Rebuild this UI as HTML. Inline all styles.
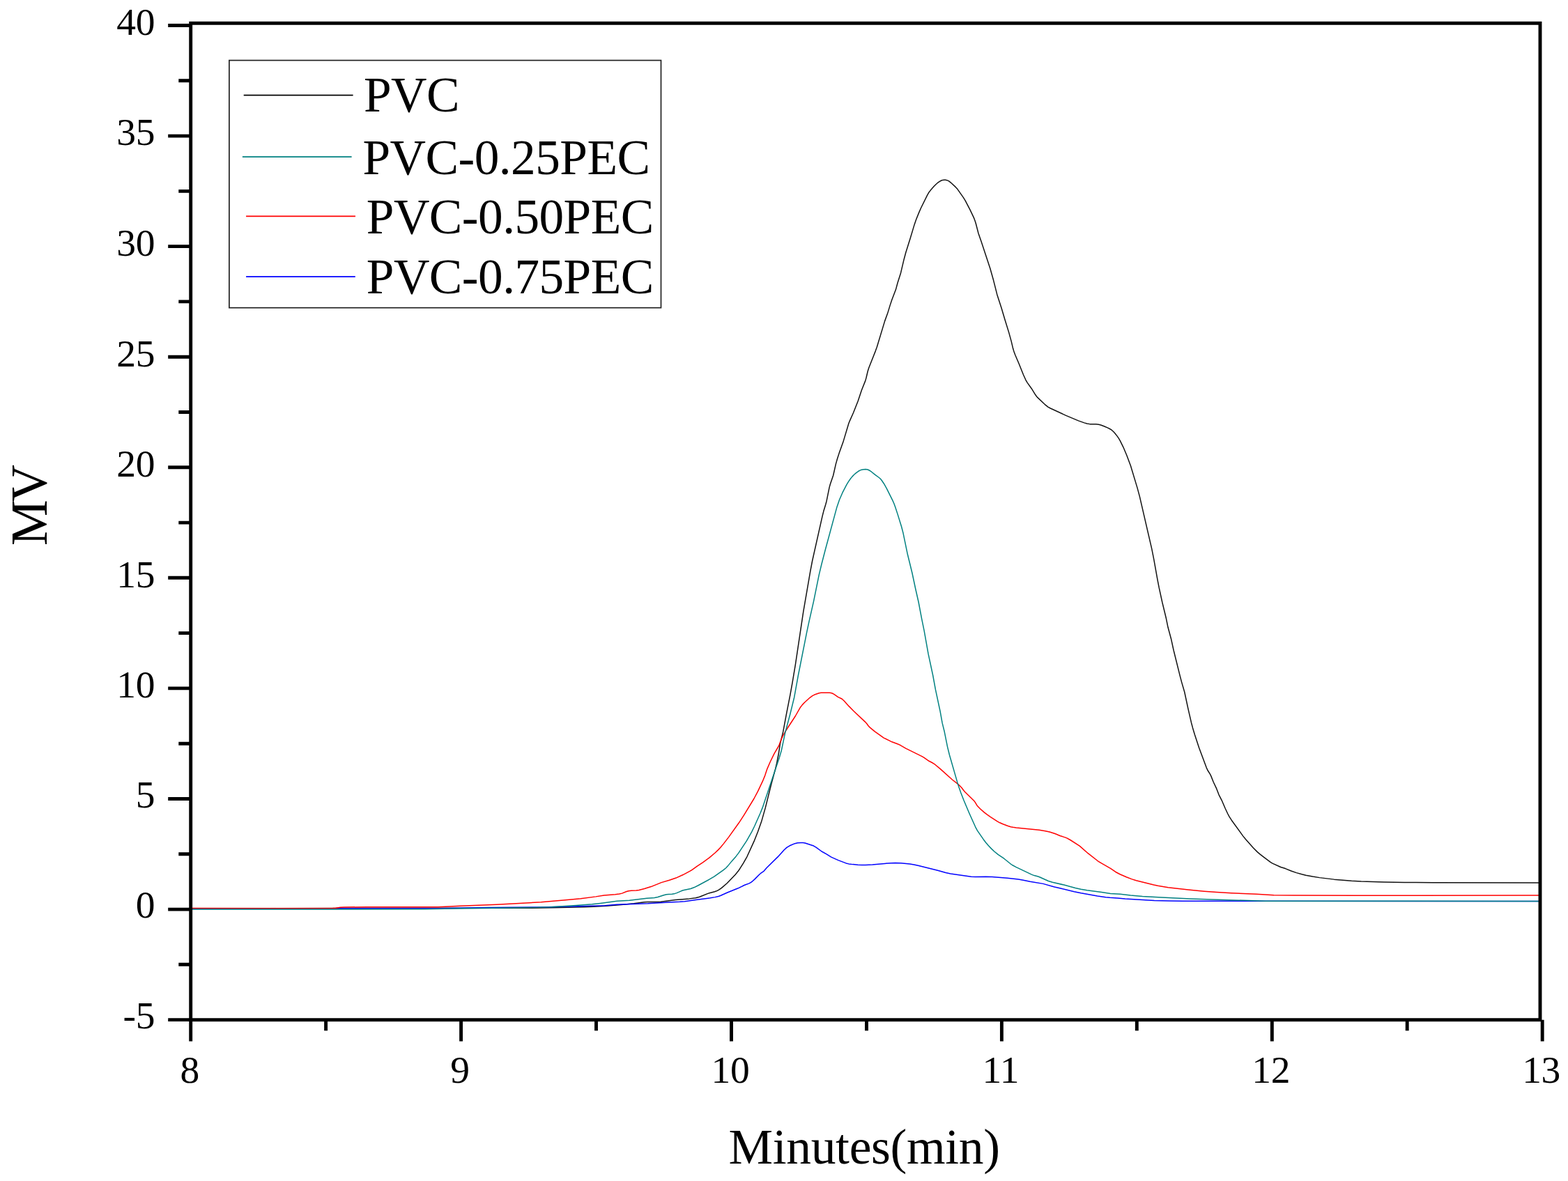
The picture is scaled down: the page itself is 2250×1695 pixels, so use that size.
<!DOCTYPE html><html><head><meta charset="utf-8"><style>html,body{margin:0;padding:0;background:#fff;}svg{display:block}</style></head><body>
<svg xmlns="http://www.w3.org/2000/svg" width="2250" height="1695" viewBox="0 0 2250 1695">
<rect width="2250" height="1695" fill="#fff"/>
<defs><clipPath id="pc"><rect x="273.7" y="33.3" width="1936.3" height="1430.4"/></clipPath></defs>
<g clip-path="url(#pc)" fill="none" stroke-linejoin="round" stroke-linecap="round">
<path d="M273.70,1304.00 L479.70,1303.50 L760.70,1303.20 L792.70,1302.77 L838.69,1301.80 L851.68,1301.36 L869.64,1300.22 L891.56,1298.39 L909.49,1296.73 L924.36,1294.85 L929.36,1294.62 L942.36,1294.50 L948.35,1294.16 L969.18,1291.59 L989.11,1289.88 L998.03,1288.70 L1003.85,1287.28 L1015.87,1282.37 L1025.51,1279.75 L1029.25,1278.38 L1031.89,1276.96 L1035.16,1274.68 L1043.44,1267.44 L1055.20,1255.17 L1059.05,1250.58 L1061.88,1246.46 L1066.65,1238.83 L1072.06,1229.26 L1082.04,1207.43 L1087.57,1193.49 L1092.59,1179.36 L1098.34,1159.16 L1106.78,1125.20 L1112.55,1103.96 L1114.65,1095.22 L1117.50,1080.49 L1119.46,1067.64 L1123.74,1050.17 L1128.30,1025.58 L1133.90,997.13 L1136.93,980.40 L1141.37,953.77 L1152.82,877.63 L1162.88,819.49 L1165.68,804.76 L1179.91,741.33 L1181.86,733.58 L1184.79,724.02 L1186.08,719.19 L1190.05,699.59 L1191.41,694.78 L1195.62,682.49 L1199.41,665.92 L1201.57,658.22 L1204.05,650.61 L1209.80,634.62 L1217.84,607.80 L1219.31,604.08 L1224.60,592.21 L1231.22,575.48 L1236.29,560.30 L1241.81,546.36 L1242.91,542.52 L1245.22,532.79 L1246.72,528.02 L1256.27,503.85 L1258.29,498.20 L1269.59,460.87 L1273.71,449.61 L1277.20,438.13 L1279.74,430.54 L1285.45,415.60 L1288.03,405.94 L1292.57,391.66 L1297.16,372.19 L1299.77,362.54 L1306.36,341.55 L1312.09,322.39 L1314.75,314.84 L1318.84,304.64 L1321.65,298.23 L1330.51,280.30 L1333.03,275.99 L1335.48,272.84 L1340.10,267.58 L1342.87,264.70 L1345.12,262.72 L1348.39,260.44 L1351.00,258.99 L1352.86,258.38 L1354.81,258.18 L1356.79,258.28 L1358.73,258.66 L1360.57,259.37 L1362.25,260.40 L1364.57,262.30 L1371.19,268.39 L1373.86,271.35 L1382.47,283.62 L1385.10,287.86 L1391.99,301.19 L1397.59,312.92 L1399.02,316.65 L1400.22,320.46 L1404.00,334.97 L1407.93,346.31 L1420.81,385.23 L1425.67,402.56 L1430.82,422.92 L1437.01,441.93 L1441.82,458.24 L1447.73,477.35 L1451.18,489.88 L1453.72,500.58 L1455.19,505.35 L1457.00,510.01 L1462.14,521.96 L1468.46,537.74 L1471.74,545.03 L1474.24,549.35 L1480.08,557.47 L1485.89,566.80 L1487.67,569.20 L1489.74,571.36 L1499.17,580.31 L1503.84,584.05 L1507.33,585.97 L1529.08,596.12 L1547.51,603.89 L1555.99,606.87 L1559.85,607.92 L1563.78,608.63 L1566.77,608.79 L1572.76,608.68 L1576.70,609.19 L1579.58,610.00 L1584.26,611.77 L1589.77,614.14 L1593.31,615.99 L1595.77,617.68 L1597.98,619.69 L1599.98,621.93 L1603.05,625.87 L1605.30,629.17 L1607.32,632.62 L1611.76,641.58 L1616.82,653.55 L1622.43,668.53 L1631.97,700.12 L1635.35,712.67 L1652.72,787.69 L1655.65,802.40 L1661.12,832.91 L1663.23,843.71 L1667.73,864.22 L1673.39,887.54 L1675.99,900.28 L1680.45,916.68 L1684.07,933.28 L1693.25,970.16 L1695.55,978.86 L1699.74,993.26 L1704.98,1017.70 L1709.49,1037.19 L1711.55,1044.92 L1714.41,1054.50 L1720.67,1073.49 L1731.13,1101.60 L1732.79,1105.24 L1736.46,1111.19 L1737.82,1113.85 L1741.13,1122.22 L1745.79,1132.17 L1748.99,1140.58 L1753.11,1148.57 L1758.26,1160.50 L1761.65,1167.75 L1763.99,1172.16 L1767.26,1177.19 L1783.65,1199.89 L1787.42,1204.55 L1798.74,1217.23 L1804.39,1222.89 L1808.21,1226.11 L1813.74,1230.40 L1823.39,1237.53 L1825.96,1239.06 L1837.77,1244.45 L1844.43,1246.58 L1852.73,1250.04 L1860.30,1252.60 L1868.00,1254.77 L1873.84,1256.15 L1883.66,1258.03 L1893.53,1259.62 L1914.38,1262.13 L1939.29,1264.30 L1953.27,1265.02 L1986.25,1265.95 L2015.25,1266.44 L2055.25,1266.69 L2215.00,1266.90" stroke="#111111" stroke-width="1.5"/>
<path d="M273.70,1304.20 L508.70,1303.80 L629.70,1303.78 L700.69,1302.59 L775.69,1301.89 L809.68,1301.26 L867.66,1299.69 L884.60,1298.36 L929.57,1296.79 L959.51,1294.89 L975.50,1294.28 L982.48,1293.75 L1000.29,1291.18 L1019.14,1288.82 L1026.04,1287.63 L1030.90,1286.47 L1033.74,1285.52 L1043.76,1281.00 L1058.61,1275.07 L1068.51,1270.29 L1075.03,1267.83 L1077.62,1266.33 L1080.02,1264.54 L1082.98,1261.86 L1090.03,1254.77 L1091.55,1253.49 L1095.62,1250.71 L1100.17,1245.53 L1116.54,1229.38 L1125.24,1219.73 L1128.92,1216.37 L1133.18,1213.79 L1140.53,1210.65 L1144.40,1209.73 L1149.38,1209.42 L1152.38,1209.52 L1155.32,1209.94 L1167.59,1214.06 L1171.04,1216.05 L1179.08,1221.98 L1186.04,1225.92 L1192.80,1230.17 L1202.85,1234.63 L1214.05,1238.90 L1217.91,1239.89 L1223.86,1240.62 L1230.84,1241.21 L1236.83,1241.46 L1241.83,1241.45 L1251.82,1240.91 L1278.72,1238.63 L1284.71,1238.42 L1292.70,1238.77 L1305.63,1240.08 L1311.56,1240.99 L1317.44,1242.18 L1345.57,1249.23 L1357.09,1252.58 L1363.94,1253.96 L1393.64,1258.17 L1399.63,1258.38 L1414.63,1258.16 L1423.62,1258.51 L1445.56,1260.18 L1461.45,1262.05 L1468.35,1263.18 L1478.12,1265.30 L1496.87,1268.37 L1513.20,1273.04 L1521.99,1275.01 L1541.39,1279.85 L1551.19,1281.82 L1574.83,1285.96 L1586.70,1287.72 L1592.67,1288.34 L1603.65,1288.89 L1614.58,1290.11 L1656.51,1292.48 L1678.50,1293.05 L1696.50,1293.29 L2215.00,1293.60" stroke="#0000ff" stroke-width="1.5"/>
<path d="M273.70,1303.60 L410.70,1303.74 L477.70,1303.51 L481.69,1303.30 L488.58,1302.17 L493.57,1301.96 L526.57,1301.78 L599.57,1301.86 L628.57,1301.64 L660.53,1300.22 L712.50,1298.34 L776.40,1294.82 L808.29,1292.12 L833.17,1289.66 L854.99,1286.88 L866.83,1284.95 L882.78,1283.78 L888.73,1283.06 L892.61,1282.11 L899.12,1279.57 L901.98,1278.70 L905.93,1278.18 L912.92,1278.01 L916.87,1277.45 L924.64,1275.55 L934.19,1272.58 L949.02,1266.62 L960.54,1263.27 L970.02,1260.08 L980.04,1255.55 L989.77,1250.44 L993.17,1248.34 L1000.44,1243.03 L1008.81,1237.57 L1017.70,1231.09 L1026.11,1224.01 L1030.45,1219.86 L1033.90,1216.24 L1038.37,1210.87 L1045.69,1201.35 L1060.25,1181.04 L1067.39,1170.17 L1081.93,1146.25 L1087.55,1135.65 L1094.38,1121.18 L1097.78,1112.85 L1100.93,1103.36 L1105.31,1093.27 L1110.99,1081.58 L1117.07,1071.25 L1118.28,1068.51 L1121.10,1061.03 L1123.60,1055.58 L1127.10,1049.52 L1141.31,1027.75 L1148.22,1015.58 L1151.25,1011.62 L1154.70,1008.01 L1162.12,1001.31 L1166.13,998.35 L1168.82,997.06 L1175.33,994.68 L1178.27,994.33 L1183.27,994.18 L1190.26,994.32 L1192.24,994.52 L1194.15,994.97 L1196.77,996.33 L1202.47,1000.37 L1206.95,1002.47 L1208.63,1003.49 L1211.54,1006.19 L1218.20,1013.65 L1225.20,1020.79 L1241.23,1035.85 L1243.90,1038.81 L1246.24,1041.98 L1248.31,1044.11 L1255.27,1049.81 L1268.27,1059.11 L1279.93,1064.81 L1289.29,1068.31 L1292.02,1069.53 L1299.78,1074.07 L1323.04,1085.67 L1325.62,1087.20 L1333.05,1092.27 L1338.36,1095.01 L1341.68,1097.21 L1349.34,1103.63 L1366.44,1119.02 L1374.31,1125.17 L1377.29,1127.84 L1380.06,1130.72 L1383.06,1134.69 L1385.02,1136.94 L1397.83,1149.57 L1399.06,1151.13 L1402.09,1156.22 L1406.98,1161.20 L1412.24,1165.82 L1416.16,1168.91 L1421.08,1172.36 L1431.13,1178.90 L1434.65,1180.79 L1439.23,1182.80 L1445.76,1185.31 L1450.54,1186.74 L1453.48,1187.32 L1458.44,1187.96 L1491.27,1191.28 L1500.16,1192.70 L1506.01,1194.02 L1510.80,1195.43 L1514.56,1196.81 L1520.99,1199.56 L1527.67,1201.60 L1530.48,1202.66 L1535.74,1205.50 L1549.18,1214.17 L1561.21,1224.70 L1575.39,1235.78 L1581.33,1239.47 L1593.51,1246.39 L1600.90,1251.49 L1607.11,1254.72 L1616.28,1258.70 L1623.73,1261.60 L1630.39,1263.74 L1655.62,1270.05 L1661.49,1271.25 L1676.29,1273.67 L1705.10,1277.00 L1728.00,1279.19 L1745.94,1280.54 L1766.91,1281.72 L1802.88,1283.32 L1827.83,1284.85 L1855.83,1285.09 L1944.83,1285.26 L2215.00,1285.10" stroke="#ff0000" stroke-width="1.5"/>
<path d="M273.70,1305.00 L501.70,1304.99 L609.70,1304.73 L667.69,1303.72 L771.68,1302.33 L790.67,1301.65 L826.60,1299.50 L849.53,1297.73 L861.46,1296.42 L885.26,1293.36 L903.23,1292.32 L928.05,1289.36 L939.01,1288.44 L943.91,1287.52 L952.47,1284.75 L956.34,1283.77 L959.31,1283.43 L964.30,1283.26 L967.26,1282.84 L971.05,1281.62 L977.46,1278.82 L980.28,1277.80 L991.00,1275.42 L995.73,1273.82 L1002.01,1270.75 L1017.84,1262.18 L1024.72,1258.11 L1037.82,1248.92 L1041.67,1245.75 L1044.43,1242.85 L1050.12,1235.89 L1056.07,1229.14 L1059.74,1224.39 L1071.34,1206.89 L1078.71,1193.83 L1082.69,1185.76 L1090.81,1167.48 L1094.18,1159.14 L1118.11,1088.06 L1121.22,1077.52 L1126.56,1052.07 L1133.79,1025.02 L1139.73,1000.74 L1145.41,969.25 L1157.69,907.46 L1160.78,892.78 L1167.62,862.55 L1175.18,825.31 L1178.92,809.75 L1184.43,788.45 L1200.95,727.66 L1204.52,717.26 L1208.91,707.18 L1214.87,695.62 L1217.44,691.34 L1220.29,687.23 L1222.81,684.13 L1225.58,681.26 L1228.60,678.63 L1231.83,676.28 L1234.46,674.90 L1236.34,674.28 L1239.28,673.73 L1242.26,673.55 L1245.17,674.01 L1247.84,675.27 L1250.30,676.98 L1255.73,681.39 L1261.40,685.49 L1262.89,686.80 L1264.89,689.03 L1268.29,693.96 L1272.20,700.94 L1280.69,717.93 L1282.77,722.47 L1284.53,727.15 L1287.95,737.61 L1293.56,755.76 L1295.84,764.46 L1302.37,795.79 L1308.82,822.01 L1313.83,845.47 L1318.04,864.00 L1322.72,888.56 L1326.10,905.22 L1332.08,938.69 L1338.61,968.99 L1342.40,989.65 L1349.10,1020.94 L1352.11,1037.67 L1355.24,1050.28 L1359.56,1071.85 L1362.43,1083.50 L1373.78,1122.89 L1375.88,1129.57 L1378.88,1138.06 L1382.85,1148.31 L1390.65,1166.73 L1399.65,1186.80 L1402.49,1192.08 L1410.98,1204.44 L1414.60,1209.23 L1418.49,1213.78 L1422.64,1218.12 L1427.01,1222.23 L1432.42,1226.66 L1440.72,1232.22 L1450.04,1239.77 L1452.49,1241.49 L1457.77,1244.33 L1480.31,1255.15 L1484.03,1256.60 L1488.86,1257.81 L1491.70,1258.76 L1504.46,1264.49 L1510.19,1266.26 L1526.76,1270.05 L1543.16,1274.53 L1550.99,1276.17 L1559.86,1277.66 L1580.68,1280.39 L1593.52,1282.40 L1607.48,1283.36 L1622.38,1285.08 L1639.33,1286.44 L1662.29,1287.76 L1708.24,1289.95 L1816.19,1293.28 L2215.00,1293.40" stroke="#008080" stroke-width="1.5"/>
</g>
<rect x="273.7" y="33.3" width="1936.3" height="1430.4" fill="none" stroke="#000" stroke-width="4.9"/>
<path d="M241.2,36.5H273.7 M256.3,115.8H273.7 M241.2,195.1H273.7 M256.3,274.4H273.7 M241.2,353.6H273.7 M256.3,432.9H273.7 M241.2,512.2H273.7 M256.3,591.5H273.7 M241.2,670.8H273.7 M256.3,750.1H273.7 M241.2,829.3H273.7 M256.3,908.6H273.7 M241.2,987.9H273.7 M256.3,1067.2H273.7 M241.2,1146.5H273.7 M256.3,1225.8H273.7 M241.2,1305.1H273.7 M256.3,1384.3H273.7 M241.2,1463.6H273.7 M273.7,1463.7V1494.4 M467.6,1463.7V1479.2 M661.6,1463.7V1494.4 M855.5,1463.7V1479.2 M1049.5,1463.7V1494.4 M1243.5,1463.7V1479.2 M1437.4,1463.7V1494.4 M1631.3,1463.7V1479.2 M1825.3,1463.7V1494.4 M2019.2,1463.7V1479.2 M2213.2,1463.7V1494.4" stroke="#000" stroke-width="4.9" fill="none"/>
<text x="222.0" y="49.7" font-family="Liberation Serif, Times New Roman, serif" font-size="55.5" letter-spacing="-0.4" text-anchor="end">40</text>
<text x="222.0" y="208.2" font-family="Liberation Serif, Times New Roman, serif" font-size="55.5" letter-spacing="-0.4" text-anchor="end">35</text>
<text x="222.0" y="366.8" font-family="Liberation Serif, Times New Roman, serif" font-size="55.5" letter-spacing="-0.4" text-anchor="end">30</text>
<text x="222.0" y="525.6" font-family="Liberation Serif, Times New Roman, serif" font-size="55.5" letter-spacing="-0.4" text-anchor="end">25</text>
<text x="222.0" y="683.9" font-family="Liberation Serif, Times New Roman, serif" font-size="55.5" letter-spacing="-0.4" text-anchor="end">20</text>
<text x="222.0" y="842.7" font-family="Liberation Serif, Times New Roman, serif" font-size="55.5" letter-spacing="-0.4" text-anchor="end">15</text>
<text x="222.0" y="1001.1" font-family="Liberation Serif, Times New Roman, serif" font-size="55.5" letter-spacing="-0.4" text-anchor="end">10</text>
<text x="222.0" y="1158.8" font-family="Liberation Serif, Times New Roman, serif" font-size="55.5" letter-spacing="-0.4" text-anchor="end">5</text>
<text x="222.0" y="1316.6" font-family="Liberation Serif, Times New Roman, serif" font-size="55.5" letter-spacing="-0.4" text-anchor="end">0</text>
<text x="222.0" y="1475.6" font-family="Liberation Serif, Times New Roman, serif" font-size="55.5" letter-spacing="-0.4" text-anchor="end">-5</text>
<text x="272.1" y="1554.4" font-family="Liberation Serif, Times New Roman, serif" font-size="55.5" letter-spacing="-0.4" text-anchor="middle">8</text>
<text x="660.0" y="1554.4" font-family="Liberation Serif, Times New Roman, serif" font-size="55.5" letter-spacing="-0.4" text-anchor="middle">9</text>
<text x="1047.9" y="1554.4" font-family="Liberation Serif, Times New Roman, serif" font-size="55.5" letter-spacing="-0.4" text-anchor="middle">10</text>
<text x="1435.8" y="1554.4" font-family="Liberation Serif, Times New Roman, serif" font-size="55.5" letter-spacing="-0.4" text-anchor="middle">11</text>
<text x="1823.7" y="1554.4" font-family="Liberation Serif, Times New Roman, serif" font-size="55.5" letter-spacing="-0.4" text-anchor="middle">12</text>
<text x="2211.6" y="1554.4" font-family="Liberation Serif, Times New Roman, serif" font-size="55.5" letter-spacing="-0.4" text-anchor="middle">13</text>
<text x="1240.1" y="1669.9" font-family="Liberation Serif, Times New Roman, serif" font-size="71.5" letter-spacing="-0.35" text-anchor="middle">Minutes(min)</text>
<text transform="translate(66.5,726.5) rotate(-90)" font-family="Liberation Serif, Times New Roman, serif" font-size="74" letter-spacing="-3.2" text-anchor="middle">MV</text>
<rect x="328.9" y="86.6" width="619.6" height="355.1" fill="#fff" stroke="#222" stroke-width="1.7"/>
<path d="M349.7,136.7H506.6" stroke="#000000" stroke-width="1.7"/>
<text x="522.0" y="159.6" font-family="Liberation Serif, Times New Roman, serif" font-size="71.3" letter-spacing="-0.55">PVC</text>
<path d="M347.9,225.2H504.6" stroke="#008080" stroke-width="1.7"/>
<text x="520.5" y="249.8" font-family="Liberation Serif, Times New Roman, serif" font-size="71.3" letter-spacing="-0.55">PVC-0.25PEC</text>
<path d="M353.1,310.4H510.0" stroke="#ff0000" stroke-width="1.7"/>
<text x="525.8" y="334.6" font-family="Liberation Serif, Times New Roman, serif" font-size="71.3" letter-spacing="-0.55">PVC-0.50PEC</text>
<path d="M353.1,397.2H509.8" stroke="#0000ff" stroke-width="1.7"/>
<text x="525.8" y="421.4" font-family="Liberation Serif, Times New Roman, serif" font-size="71.3" letter-spacing="-0.55">PVC-0.75PEC</text>
</svg></body></html>
